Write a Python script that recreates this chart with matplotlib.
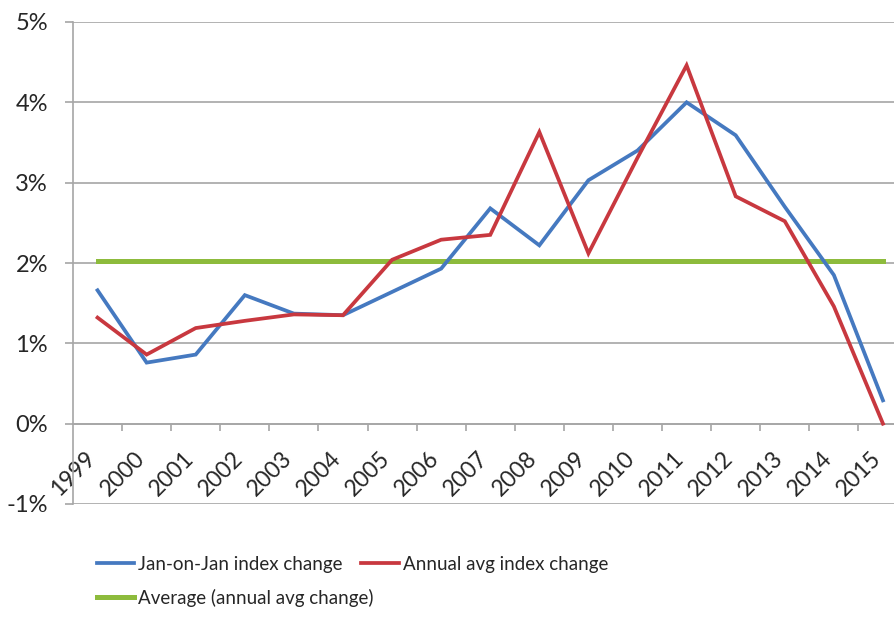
import matplotlib
matplotlib.use("Agg")
import matplotlib.pyplot as plt
from matplotlib.ticker import FixedLocator, FuncFormatter
from matplotlib.transforms import ScaledTranslation

plt.rcParams['font.family'] = ['Lato', 'DejaVu Sans']

# Annual CPI index changes, %
anios = [str(a) for a in range(1999, 2016)]
jan_on_jan = [1.66, 0.76, 0.86, 1.60, 1.37, 1.35, 1.64, 1.93, 2.68, 2.22,
              3.03, 3.40, 4.00, 3.59, 2.70, 1.85, 0.29]
media_anual = [1.32, 0.86, 1.19, 1.28, 1.36, 1.35, 2.04, 2.29, 2.35, 3.63,
               2.12, 3.31, 4.46, 2.83, 2.52, 1.46, 0.00]
promedio = 2.02
y_ticks = [-1, 0, 1, 2, 3, 4, 5]

AZUL = '#4579c0'
ROJO = '#c8383f'
VERDE = '#8dbb3c'
GRIS = '#a6a6a6'
TEXTO = '#262626'

fig = plt.figure(figsize=(8.95, 6.2), dpi=100)
ax = fig.add_axes([73 / 895, (620 - 504) / 620, 834.5 / 895, 482 / 620])

x = list(range(len(anios)))
l_azul, = ax.plot(x, jan_on_jan, color=AZUL, lw=2.7, solid_joinstyle='miter',
                  label='Jan-on-Jan index change', zorder=4)
l_rojo, = ax.plot(x, media_anual, color=ROJO, lw=2.7, solid_joinstyle='miter',
                  label='Annual avg index change', zorder=5)
l_verde, = ax.plot(x, [promedio] * len(x), color=VERDE, lw=3.6,
                   label='Average (annual avg change)', zorder=3)

ax.set_xlim(-0.5, len(anios) - 0.5)
ax.set_ylim(y_ticks[0], y_ticks[-1])

# eje de categorias cruzando en 0
for lado in ('top', 'right'):
    ax.spines[lado].set_visible(False)
ax.spines['bottom'].set_position(('data', 0))
ax.spines['bottom'].set_color(GRIS)
ax.spines['bottom'].set_linewidth(1.2)
ax.spines['left'].set_color(GRIS)
ax.spines['left'].set_linewidth(1.2)

ax.set_yticks(y_ticks)
ax.yaxis.set_major_formatter(FuncFormatter(lambda v, p: '%d%%' % v))
ax.tick_params(axis='y', length=6, width=1.2, color=GRIS, pad=12,
               labelsize=17, labelcolor=TEXTO)
ax.grid(axis='y', color=GRIS, lw=1.2, zorder=1)

ax.set_xticks(x)
ax.xaxis.set_minor_locator(FixedLocator([i + 0.5 for i in x]))
ax.tick_params(axis='x', which='major', length=0, pad=17, labelsize=16.5,
               labelcolor=TEXTO)
ax.tick_params(axis='x', which='minor', length=5, width=1.2, color=GRIS)
ax.set_xticklabels(anios, rotation=45, ha='right', va='top',
                   rotation_mode='anchor')
# corre las etiquetas de año un poco a la izquierda
desplaza = ScaledTranslation(-13 / 100, 0, fig.dpi_scale_trans)
for lab in ax.get_xticklabels():
    lab.set_transform(lab.get_transform() + desplaza)

# leyenda en dos filas: dos series arriba, el promedio debajo
estilo = dict(frameon=False, loc='upper left', fontsize=13.5,
              handlelength=2.0, handletextpad=0.2, labelcolor=TEXTO)
fila1 = fig.legend(handles=[l_azul, l_rojo], ncol=2, columnspacing=1.0,
                   bbox_to_anchor=(80 / 895, 1 - 539 / 620), **estilo)
fila2 = fig.legend(handles=[l_verde],
                   bbox_to_anchor=(80 / 895, 1 - 572 / 620), **estilo)

fig.savefig('out.png', dpi=100)
